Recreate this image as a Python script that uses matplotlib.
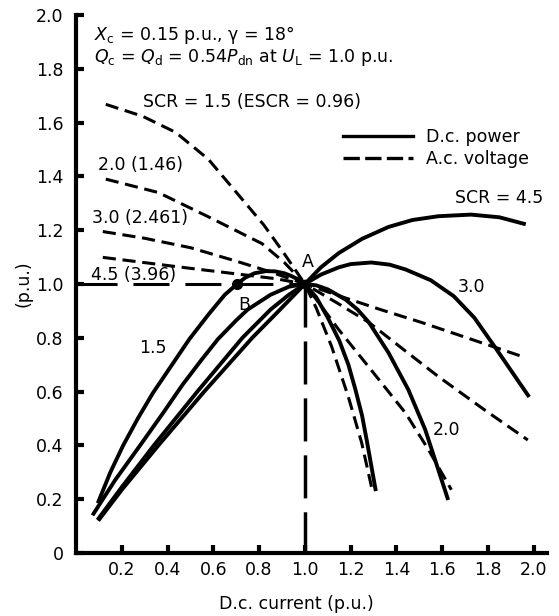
import matplotlib.pyplot as plt
from matplotlib.lines import Line2D

# d.c. power curves (solid), x = d.c. current, y = d.c. power (p.u.)
i_p15 = [0.095, 0.15, 0.206, 0.27, 0.336, 0.41, 0.496, 0.58, 0.65, 0.704, 0.74, 0.78, 0.83, 0.87,
         0.91, 0.94, 0.97, 1.0, 1.05, 1.10, 1.15, 1.19, 1.22, 1.25, 1.27, 1.31]
p_p15 = [0.185, 0.30, 0.40, 0.50, 0.595, 0.688, 0.796, 0.888, 0.96, 1.0, 1.024, 1.04, 1.048, 1.047,
         1.04, 1.03, 1.017, 1.0, 0.95, 0.875, 0.79, 0.70, 0.61, 0.51, 0.42, 0.23]

i_p20 = [0.072, 0.17, 0.28, 0.38, 0.465, 0.55, 0.62, 0.70, 0.75, 0.85, 0.93, 1.0, 1.05, 1.10,
         1.178, 1.23, 1.28, 1.365, 1.452, 1.526, 1.626]
p_p20 = [0.14, 0.27, 0.40, 0.52, 0.625, 0.72, 0.795, 0.865, 0.905, 0.96, 0.99, 1.0, 0.995, 0.98,
         0.942, 0.905, 0.857, 0.745, 0.607, 0.458, 0.197]

i_p30 = [0.094, 0.2, 0.34, 0.53, 0.727, 0.85, 0.93, 1.0, 1.07, 1.148, 1.2, 1.29, 1.37, 1.44, 1.55,
         1.65, 1.74, 1.83, 1.98]
p_p30 = [0.123, 0.245, 0.40, 0.60, 0.80, 0.905, 0.96, 1.0, 1.035, 1.062, 1.074, 1.08, 1.072, 1.054,
         1.014, 0.955, 0.875, 0.766, 0.58]

i_p45 = [0.097, 0.2, 0.36, 0.56, 0.77, 0.88, 1.0, 1.07, 1.148, 1.25, 1.365, 1.47, 1.583, 1.726,
         1.85, 1.965]
p_p45 = [0.12, 0.235, 0.40, 0.60, 0.80, 0.895, 1.0, 1.062, 1.115, 1.168, 1.212, 1.238, 1.252, 1.258,
         1.248, 1.222]

# a.c. voltage curves (dashed)
i_u15 = [0.13, 0.29, 0.435, 0.578, 0.726, 0.82, 0.9, 1.0, 1.05, 1.117, 1.19, 1.248, 1.291]
u_u15 = [1.668, 1.624, 1.564, 1.464, 1.315, 1.22, 1.125, 1.0, 0.91, 0.767, 0.58, 0.41, 0.246]

i_u20 = [0.13, 0.36, 0.578, 0.813, 0.91, 1.0, 1.148, 1.29, 1.44, 1.54, 1.64]
u_u20 = [1.39, 1.34, 1.25, 1.15, 1.08, 1.0, 0.83, 0.68, 0.52, 0.384, 0.235]

i_u30 = [0.117, 0.3, 0.5, 0.7, 0.85, 1.0, 1.14, 1.28, 1.43, 1.583, 1.78, 1.974]
u_u30 = [1.195, 1.17, 1.135, 1.085, 1.045, 1.0, 0.93, 0.857, 0.757, 0.656, 0.535, 0.42]

i_u45 = [0.117, 0.435, 0.726, 0.87, 1.0, 1.16, 1.33, 1.51, 1.965]
u_u45 = [1.099, 1.065, 1.035, 1.02, 1.0, 0.953, 0.905, 0.857, 0.726]

# operating points
pt_a = (1.0, 1.0)
pt_b = (0.704, 1.0)
ref_start = 0.02

xticks = [0.2, 0.4, 0.6, 0.8, 1.0, 1.2, 1.4, 1.6, 1.8, 2.0]
yticks = [0, 0.2, 0.4, 0.6, 0.8, 1.0, 1.2, 1.4, 1.6, 1.8, 2.0]

plt.rcParams['font.size'] = 12.5

fig = plt.figure(figsize=(5.59, 6.16), dpi=100)
ax = fig.add_axes([0.136, 0.1023, 0.8426, 0.8733])

lw_s = 2.8
lw_d = 2.2
dash = (4.3, 2.2)

for x, y in [(i_p15, p_p15), (i_p20, p_p20), (i_p30, p_p30), (i_p45, p_p45)]:
    ax.plot(x, y, color="black", lw=lw_s, solid_capstyle="butt", solid_joinstyle="round")

for x, y in [(i_u15, u_u15), (i_u20, u_u20), (i_u30, u_u30), (i_u45, u_u45)]:
    ax.plot(x, y, color="black", lw=lw_d, dashes=dash)

# reference lines through A
ax.hlines(pt_a[1], ref_start, pt_a[0], color="black", lw=2.2, linestyles=(0, (11.8, 5.2)))
ax.plot([pt_a[0], pt_a[0]], [pt_a[1], 0], color="black", lw=2.5, dashes=(12.4, 4))

ax.plot(*pt_b, "o", color="black", ms=7)
ax.plot(*pt_a, "o", color="black", ms=6)

# text labels
ax.text(0.079, 1.907, r"$X_\mathrm{c}$ = 0.15 p.u., γ = 18°")
ax.text(0.079, 1.825, r"$Q_\mathrm{c}$ = $Q_\mathrm{d}$ = 0.54$P_\mathrm{dn}$ at $U_\mathrm{L}$ = 1.0 p.u.")
ax.text(0.293, 1.658, "SCR = 1.5 (ESCR = 0.96)")
ax.text(0.096, 1.424, "2.0 (1.46)")
ax.text(0.07, 1.227, "3.0 (2.461)")
ax.text(0.066, 1.015, "4.5 (3.96)")
ax.text(0.987, 1.063, "A")
ax.text(0.708, 0.903, "B")
ax.text(0.275, 0.743, "1.5")
ax.text(1.656, 1.301, "SCR = 4.5", clip_on=False)
ax.text(1.668, 0.97, "3.0")
ax.text(1.56, 0.439, "2.0")

handles = [Line2D([], [], color="black", lw=2.4),
           Line2D([], [], color="black", lw=2.4, dashes=(4.9, 1.6))]
ax.legend(handles, ["D.c. power", "A.c. voltage"], loc="upper left",
          bbox_to_anchor=(0.567, 0.79), bbox_transform=ax.transAxes,
          frameon=False, handlelength=4.0, handletextpad=0.8,
          labelspacing=0.25, borderpad=0, borderaxespad=0)

ax.set_xlim(0, 2.058)
ax.set_ylim(0, 2.0)
ax.set_xticks(xticks)
ax.set_xticklabels([f"{v:.1f}" for v in xticks])
ax.set_yticks(yticks)
ax.set_yticklabels(["0"] + [f"{v:.1f}" for v in yticks[1:]])

ax.spines["top"].set_visible(False)
ax.spines["right"].set_visible(False)
ax.spines["left"].set_linewidth(3)
ax.spines["bottom"].set_linewidth(3)
ax.tick_params(direction="in", length=6, width=3)
ax.tick_params(axis="y", pad=9)
ax.tick_params(axis="x", pad=6)

ax.set_xlabel("D.c. current (p.u.)")
ax.set_ylabel("(p.u.)")
ax.xaxis.set_label_coords(0.467, -0.078)
ax.yaxis.set_label_coords(-0.092, 0.5)

fig.savefig("out.png", dpi=100)
